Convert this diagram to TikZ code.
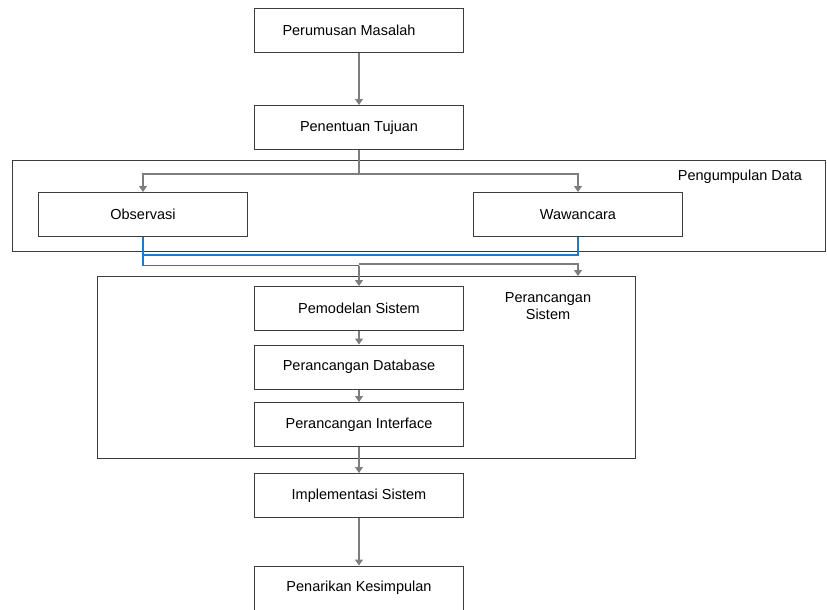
\documentclass[tikz,border=0pt]{standalone}
\usepackage{fontspec}
\setmainfont{Liberation Sans}
\usetikzlibrary{arrows.meta}
\definecolor{boxline}{RGB}{60,60,60}
\definecolor{flowgray}{RGB}{125,125,125}
\definecolor{flowblue}{RGB}{35,120,195}
\tikzset{
  stepbox/.style={draw=boxline, line width=1pt, minimum width=209pt, minimum height=44pt, inner sep=0pt, font=\fontsize{14.5}{17}\selectfont},
  groupbox/.style={draw=boxline, line width=1pt, inner sep=0pt},
  grouplabel/.style={font=\fontsize{14.5}{17}\selectfont, align=center},
  flow/.style={draw=flowgray, line width=1.1pt, -{Triangle[width=8pt,length=6pt]}},
  bluewire/.style={draw=flowblue, line width=1.1pt}
}
\begin{document}
\begin{tikzpicture}[x=1pt, y=-1pt]
\useasboundingbox (0,0) rectangle (827,610);
%\draw[help lines, step=50] (0,0) grid (827,610);
\node [groupbox, minimum width=813pt, minimum height=91pt] (pengumpulan) at (418.5,205.5) {};
\node [groupbox, minimum width=538pt, minimum height=182pt] (perancangan) at (366,367) {};
\node [grouplabel] (pengumpulanlabel) at (740,177) {Pengumpulan Data};
\node [grouplabel] (perancanganlabel) at (548,306) {Perancangan\\Sistem};

\node [stepbox] (perumusan) at (359,30.5) {\hspace*{-20pt}Perumusan Masalah};
\node [stepbox] (penentuan) at (359,127.5) {Penentuan Tujuan};
\node [stepbox] (observasi) at (143,214.5) {Observasi};
\node [stepbox] (wawancara) at (578,214.5) {Wawancara};
\node [stepbox] (pemodelan) at (359,308.5) {Pemodelan Sistem};
\node [stepbox] (database) at (359,367) {Perancangan Database};
\node [stepbox] (interface) at (359,424.5) {Perancangan Interface};
\node [stepbox] (implementasi) at (359,495.5) {Implementasi Sistem};
\node [stepbox] (penarikan) at (359,588) {Penarikan Kesimpulan};

\coordinate (split) at (359,174);
\coordinate (merge) at (359,265.5);
\coordinate (grayturn) at (359,264);
\coordinate (blueleft) at (143,265.5);
\coordinate (blueup) at (143,255);
\coordinate (sysin) at (578,276);

\draw [flow] (perumusan) -- (penentuan);
\draw [flow, -] (penentuan) -- (split);
\draw [flow] (split) -| (observasi);
\draw [flow] (split) -| (wawancara);
\draw [flow] (grayturn) -| (sysin);
\draw [flow] (merge) -- (pemodelan);
\draw [bluewire] (observasi.south) -- (blueleft) -- (merge);
\draw [bluewire] (wawancara.south) |- (blueup);
\draw [flow] (pemodelan) -- (database);
\draw [flow] (database) -- (interface);
\draw [flow] (interface) -- (implementasi);
\draw [flow] (implementasi) -- (penarikan);
\end{tikzpicture}
\end{document}
